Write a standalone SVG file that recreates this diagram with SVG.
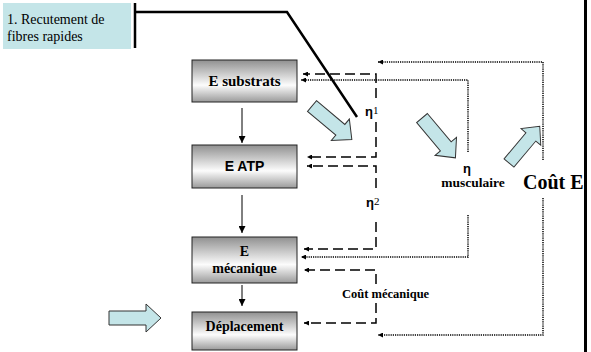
<svg xmlns="http://www.w3.org/2000/svg" width="591" height="352" viewBox="0 0 591 352">
  <style>
    .box { stroke: #222; stroke-width: 1; fill: url(#boxShade); }
    .lbl { font-family: "Liberation Serif", "Times New Roman", serif; font-weight: bold; fill: #000; }
    .sans { font-family: "Liberation Sans", Arial, sans-serif; font-weight: bold; fill: #000; }
    .flow { stroke: #000; stroke-width: 1; fill: none; marker-end: url(#solidHead); }
    .dash { stroke: #000; stroke-width: 1.5; fill: none; stroke-dasharray: 10 5; marker-end: url(#smallHead); }
    .dot { stroke: #000; stroke-width: 1.5; fill: none; stroke-dasharray: 1.2 1; marker-end: url(#smallHead); }
    .block { fill: #c4e5e8; stroke: #333; stroke-width: 1; }
  </style>
  <defs>
    <linearGradient id="boxShade" x1="0" y1="0" x2="0" y2="1">
      <stop offset="0" stop-color="#909090"/>
      <stop offset="0.6" stop-color="#fcfcfc"/>
      <stop offset="1" stop-color="#9a9a9a"/>
    </linearGradient>
    <marker id="solidHead" viewBox="0 0 10 10" refX="10" refY="5" markerWidth="7" markerHeight="7" markerUnits="userSpaceOnUse" orient="auto">
      <path d="M0,0 L10,5 L0,10 Z" fill="#000"/>
    </marker>
    <marker id="smallHead" viewBox="0 0 10 10" refX="10" refY="5" markerWidth="6" markerHeight="5" markerUnits="userSpaceOnUse" orient="auto">
      <path d="M0,0 L10,5 L0,10 Z" fill="#000"/>
    </marker>
    <path id="blockArrow" d="M0,-7 H37 V-14 L52,0 L37,14 V7 H0 Z"/>
  </defs>

  <!-- callout -->
  <g id="callout">
    <rect x="3" y="3" width="128" height="46" fill="#c4e5e8"/>
    <text class="lbl" style="font-weight:normal" x="7" y="24" font-size="14">1. Recutement de</text>
    <text class="lbl" style="font-weight:normal" x="7" y="41" font-size="14">fibres rapides</text>
    <path d="M135,3 V48 M135,12 H287 L357,117" stroke="#000" stroke-width="2.5" fill="none"/>
  </g>

  <!-- energy chain -->
  <g id="e-substrats">
    <rect class="box" x="192" y="60" width="105" height="42"/>
    <text class="lbl" x="244.5" y="86" font-size="15" text-anchor="middle">E substrats</text>
  </g>
  <g id="e-atp">
    <rect class="box" x="192" y="145" width="105" height="43"/>
    <text class="sans" x="244.5" y="171" font-size="14" text-anchor="middle">E ATP</text>
  </g>
  <g id="e-mecanique">
    <rect class="box" x="192" y="237" width="105" height="46"/>
    <text class="lbl" x="244.5" y="256" font-size="14" text-anchor="middle">E</text>
    <text class="lbl" x="244.5" y="273" font-size="14" text-anchor="middle">mécanique</text>
  </g>
  <g id="deplacement">
    <rect class="box" x="192" y="312" width="105" height="38"/>
    <text class="lbl" x="244.5" y="331" font-size="14" text-anchor="middle">Déplacement</text>
  </g>

  <!-- labels -->
  <g id="eta1">
    <text class="sans" x="365" y="116" font-size="13">η<tspan class="lbl" style="font-weight:normal" font-size="11" dy="-2">1</tspan></text>
  </g>
  <g id="eta2">
    <text class="sans" x="366" y="207" font-size="13">η<tspan class="lbl" style="font-weight:normal" font-size="11" dy="-2">2</tspan></text>
  </g>
  <g id="eta-musculaire">
    <text class="sans" x="467" y="173" font-size="13" text-anchor="middle">η</text>
    <text class="lbl" x="473" y="187" font-size="13.5" text-anchor="middle">musculaire</text>
  </g>
  <g id="cout-e">
    <text class="lbl" x="523" y="189" font-size="20">Coût E</text>
  </g>
  <g id="cout-mecanique">
    <text class="lbl" x="342" y="298" font-size="12.5">Coût mécanique</text>
  </g>

  <!-- connectors -->
  <g id="connectors">
    <path class="flow" d="M242,108 V143"/>
    <path class="flow" d="M242,195 V233"/>
    <path class="flow" d="M242,285 V306"/>

    <path class="dash" d="M376,98 V74 H303"/>
    <path class="dash" d="M376,122 V157 H307"/>
    <path class="dash" d="M376,188 V166 H307"/>
    <path class="dash" d="M376,222 V249 H304"/>
    <path class="dash" d="M376,284 V270 H304"/>
    <path class="dash" d="M376,303 V323 H304"/>

    <path class="dot" d="M468,152 V80 H301"/>
    <path class="dot" d="M468,215 V257 H301"/>
    <path class="dot" d="M543,160 V62 H378"/>
    <path class="dot" d="M543,198 V335 H378"/>

    <use href="#blockArrow" class="block" transform="translate(312,106) rotate(40)"/>
    <use href="#blockArrow" class="block" transform="translate(422,118) rotate(50)"/>
    <use href="#blockArrow" class="block" transform="translate(509,163) rotate(-50) scale(0.92)"/>
    <use href="#blockArrow" class="block" transform="translate(109,318)"/>
  </g>

  <!-- right border -->
  <line x1="585.5" y1="0" x2="585.5" y2="352" stroke="#000" stroke-width="3"/>
</svg>
